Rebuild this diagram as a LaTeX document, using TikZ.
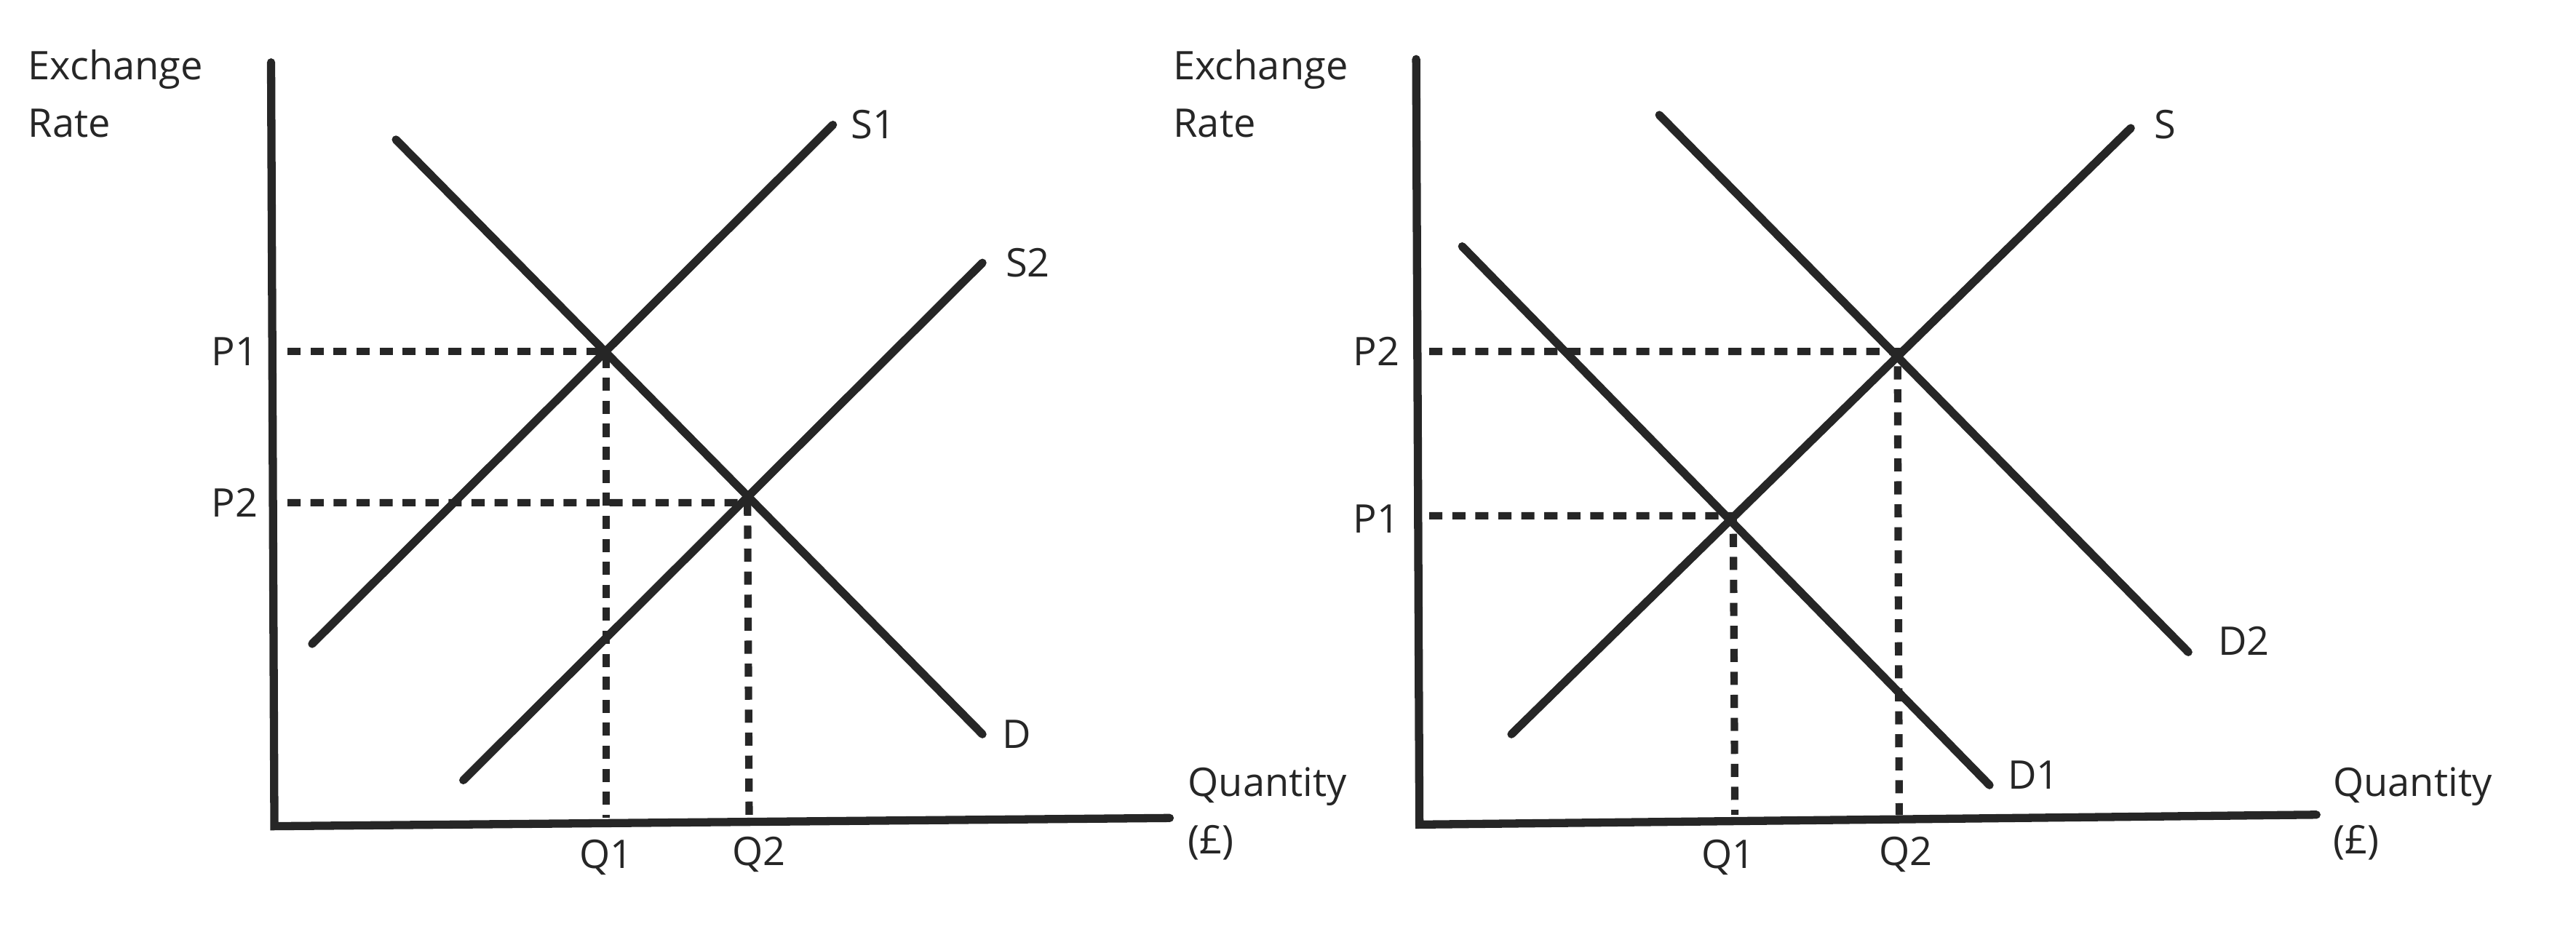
\documentclass[tikz,border=0pt]{standalone}
\usepackage{fontspec}
\setmainfont{Open Sans}
\begin{document}
\begin{tikzpicture}[x=1pt,y=-1pt,
  ln/.style={line width=5pt,color=black!85,line cap=round},
  dsh/.style={line width=4.5pt,color=black!85,dash pattern=on 8pt off 6pt},
  lab/.style={font=\fontsize{24}{35}\selectfont,text=black!85,inner sep=0pt}]
\useasboundingbox (0,0) rectangle (1568,577);
% left
\coordinate (ya) at (165,38); \coordinate (o1) at (167,503); \coordinate (xa) at (712,498);
\draw[ln] (ya)--(o1)--(xa);
\coordinate (s1a) at (190,392); \coordinate (s1b) at (507,76);
\coordinate (s2a) at (282,475); \coordinate (s2b) at (598,160);
\coordinate (da) at (241,85); \coordinate (db) at (598,447);
\draw[ln] (s1a)--(s1b); \draw[ln] (s2a)--(s2b); \draw[ln] (da)--(db);
\coordinate (e1) at (369,214); \coordinate (e2) at (455,306);
\coordinate (p1l) at (175,214); \coordinate (p2l) at (175,306);
\coordinate (q1b) at (369,498); \coordinate (q2b) at (456,498);
\draw[dsh] (p1l)--(e1)--(q1b); \draw[dsh] (p2l)--(e2)--(q2b);
\node[lab,align=left,anchor=north west] (yl1) at (17,30) {Exchange\\Rate};
\node[lab,anchor=west] (ls1) at (518,76) {S1};
\node[lab,anchor=west] (ls2) at (612,160) {S2};
\node[lab,anchor=west] (ld) at (610,447) {D};
\node[lab,anchor=east] (lp1) at (157,214) {P1};
\node[lab,anchor=east] (lp2) at (157,306) {P2};
\node[lab] (lq1) at (369,522) {Q1};
\node[lab] (lq2) at (462,520) {Q2};
\node[lab,align=left,anchor=north west] (xl1) at (723,467) {Quantity\\(£)};
% right
\coordinate (rya) at (862,36); \coordinate (o2) at (864,502); \coordinate (rxa) at (1410,496);
\draw[ln] (rya)--(o2)--(rxa);
\coordinate (sa) at (920,447); \coordinate (sb) at (1297,78);
\coordinate (d1a) at (890,150); \coordinate (d1b) at (1211,478);
\coordinate (d2a) at (1010,70); \coordinate (d2b) at (1332,397);
\draw[ln] (sa)--(sb); \draw[ln] (d1a)--(d1b); \draw[ln] (d2a)--(d2b);
\coordinate (f2) at (1155,214); \coordinate (f1) at (1055,314);
\coordinate (rp2) at (870,214); \coordinate (rp1) at (870,314);
\coordinate (rq2) at (1156,496); \coordinate (rq1) at (1056,496);
\draw[dsh] (rp2)--(f2)--(rq2); \draw[dsh] (rp1)--(f1)--(rq1);
\node[lab,align=left,anchor=north west] (yl2) at (714,30) {Exchange\\Rate};
\node[lab,anchor=west] (ls) at (1311,76) {S};
\node[lab,anchor=west] (ld2) at (1350,390) {D2};
\node[lab,anchor=west] (ld1) at (1222,472) {D1};
\node[lab,anchor=east] (rlp2) at (852,214) {P2};
\node[lab,anchor=east] (rlp1) at (852,316) {P1};
\node[lab] (rlq1) at (1052,522) {Q1};
\node[lab] (rlq2) at (1160,520) {Q2};
\node[lab,align=left,anchor=north west] (xl2) at (1420,467) {Quantity\\(£)};
\end{tikzpicture}
\end{document}
